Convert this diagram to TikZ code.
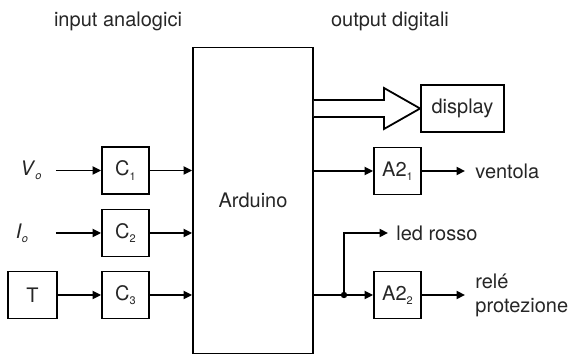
\documentclass[tikz,border=0pt]{standalone}
\usepackage{fontspec}
\setmainfont{TeX Gyre Heros}
\usetikzlibrary{arrows.meta,calc}
\newcommand{\sbs}[1]{\raisebox{-2.2pt}{\fontsize{5.5}{6}\selectfont #1}}
\begin{document}
\begin{tikzpicture}[x=0.5pt,y=-0.5pt,
  every node/.style={font=\fontsize{10}{12}\selectfont, text=black!85},
  blk/.style={draw, line width=0.9pt, minimum width=23.5pt, minimum height=23.5pt, inner sep=0pt},
  arr/.style={line width=0.9pt, -{Triangle[length=4.2pt,width=4pt]}},
  ln/.style={line width=0.9pt}]
\useasboundingbox (0,0) rectangle (570,357);
% main block
\node[draw, line width=0.9pt, minimum width=60pt, minimum height=153pt, inner sep=0pt] (ard) at (253,200.5) {Arduino};
% titles
\node (tin) at (118,21) {input analogici};
\node (tout) at (390,21) {output digitali};
% input blocks
\node[blk] (c1) at (125.5,170.5) {C\sbs{1}};
\node[blk] (c2) at (125.5,233) {C\sbs{2}};
\node[blk] (c3) at (125.5,295) {C\sbs{3}};
\node[blk, minimum width=24.5pt] (t) at (32.5,295) {T};
\node (vo) at (31,170) {\textit{V}\sbs{\textit{o}}};
\node (io) at (22,233) {\textit{I}\sbs{\textit{o}}};
\coordinate (vs) at (56,170.5);
\coordinate (is) at (56,233);
\draw[arr] (vs) -- (c1.west);
\draw[arr] (is) -- (c2.west);
\draw[arr] (t.east) -- (c3.west);
\draw[arr] (c1.east) -- (c1.east -| ard.west);
\draw[arr] (c2.east) -- (c2.east -| ard.west);
\draw[arr] (c3.east) -- (c3.east -| ard.west);
% outputs
\node[blk, minimum width=41.5pt] (disp) at (462.5,108.5) {display};
\node[blk] (a21) at (397.5,171) {A2\sbs{1}};
\node[blk] (a22) at (397.5,295) {A2\sbs{2}};
\draw[ln, fill=white, line join=miter] (ard.east |- 0,100) -- (384,100) -- (384,88) -- (disp.west) -- (384,129) -- (384,117) -- (ard.east |- 0,117);
\draw[arr] (ard.east |- a21.west) -- (a21.west);
\coordinate (ve) at (465,171);
\draw[arr] (a21.east) -- (ve);
\node[anchor=west, inner sep=0pt] (vent) at (475,171) {ventola};
\coordinate (dot) at (344,295);
\draw[arr] (ard.east |- a22.west) -- (a22.west);
\coordinate (le) at (388,233);
\draw[arr] (dot) |- (le);
\fill (dot) circle (1.6pt);
\node[anchor=west, inner sep=0pt] (led) at (396,233) {led rosso};
\coordinate (re) at (465,295);
\draw[arr] (a22.east) -- (re);
\node[anchor=west, inner sep=0pt, align=left] (rele) at (475,295) {relé\\protezione};
\end{tikzpicture}
\end{document}
